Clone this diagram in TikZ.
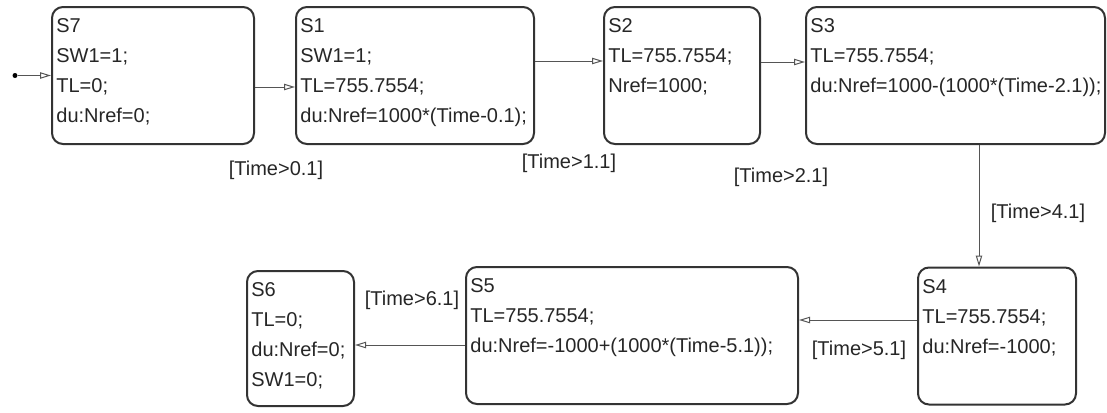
\documentclass[tikz,border=0pt]{standalone}
\usepackage{fontspec}
\setmainfont{Liberation Sans}
\usepackage{xcolor}
\usetikzlibrary{arrows.meta}
\definecolor{edge}{HTML}{333333}
\definecolor{wire}{HTML}{555555}

\begin{document}
\begin{tikzpicture}[x=0.5pt, y=-0.5pt,
    state/.style={draw=edge, line width=1pt, rounded corners=5.5pt,
                  minimum width=#1, minimum height=68.5pt, inner sep=0pt},
    body/.style={anchor=north west, align=left, inner xsep=2.5pt,
                 inner ysep=6.3pt, text=black!85,
                 font=\fontsize{10}{15}\selectfont},
    trans/.style={-{Triangle[open, length=5.5pt, width=3.2pt]}, draw=wire,
                  line width=0.5pt},
    guard/.style={text=black!85, font=\fontsize{10}{12}\selectfont,
                  inner sep=0pt}]
  \useasboundingbox (0,0) rectangle (1107,412);
  % top row
  \node[state=101pt, label={[body]north west:{S7\\SW1=1;\\TL=0;\\du:Nref=0;}}]
    (s7) at (153,75.5) {};
  \node[state=119pt, label={[body]north west:{S1\\SW1=1;\\TL=755.7554;\\du:Nref=1000*(Time-0.1);}}]
    (s1) at (415,75.5) {};
  \node[state=78pt, label={[body]north west:{S2\\TL=755.7554;\\Nref=1000;}}]
    (s2) at (682,75.5) {};
  \node[state=149.5pt, label={[body]north west:{S3\\TL=755.7554;\\du:Nref=1000-(1000*(Time-2.1));}}]
    (s3) at (955.5,75.5) {};
  % bottom row
  \node[state=79pt, label={[body]north west:{S4\\TL=755.7554;\\du:Nref=-1000;}}]
    (s4) at (997,336) {};
  \node[state=166pt, label={[body]north west:{S5\\TL=755.7554;\\du:Nref=-1000+(1000*(Time-5.1));}}]
    (s5) at (632,335.5) {};
  \node[state=53.5pt, minimum height=67.5pt,
        label={[body]north west:{S6\\TL=0;\\du:Nref=0;\\SW1=0;}}]
    (s6) at (300.5,338.5) {};
  % default transition
  \node[circle, fill=black, inner sep=0pt, minimum size=2.5pt] (init) at (15,75.5) {};
  \draw[trans] (init) -- (s7.west);
  % transitions
  \draw[trans] ([yshift=-5.75pt]s7.east) coordinate (t1) -- (t1 -| s1.west);
  \draw[trans] ([yshift=7.25pt]s1.east) coordinate (t2) -- (t2 -| s2.west);
  \draw[trans] ([yshift=6.75pt]s2.east) coordinate (t3) -- (t3 -| s3.west);
  \draw[trans] ([xshift=11.75pt]s3.south) coordinate (t4) -- (t4 |- s4.north);
  \draw[trans] ([yshift=8pt]s4.west) coordinate (t5) -- (t5 -| s5.east);
  \draw[trans] ([yshift=-4.75pt]s5.west) coordinate (t6) -- (t6 -| s6.east);
  % guards
  \node[guard] (g1) at (276,170) {[Time>0.1]};
  \node[guard] (g2) at (569,163) {[Time>1.1]};
  \node[guard] (g3) at (781,177) {[Time>2.1]};
  \node[guard] (g4) at (1038,213) {[Time>4.1]};
  \node[guard] (g5) at (859,350) {[Time>5.1]};
  \node[guard] (g6) at (412,300) {[Time>6.1]};
\end{tikzpicture}
\end{document}
